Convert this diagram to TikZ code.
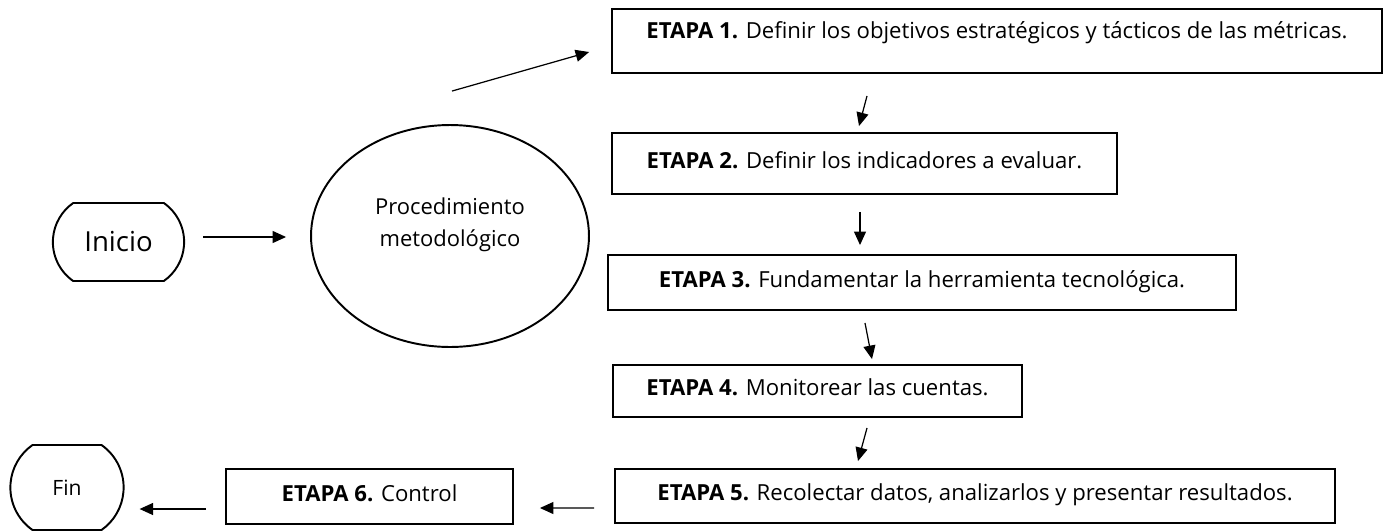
\documentclass[tikz,border=0pt]{standalone}
\usepackage{fontspec}
\setmainfont{Open Sans}
\usetikzlibrary{shapes.geometric,shapes.misc,arrows.meta}

\begin{document}
\begin{tikzpicture}[
    x=0.02cm, y=-0.02cm,
    etapa/.style={rectangle, draw, line width=1.1pt, align=center, font=\fontsize{12.6}{15}\selectfont, text height=0.8em, text depth=0.25em},
    terminal/.style={rounded rectangle, rounded rectangle arc length=110, draw, line width=1.1pt},
    proceso/.style={ellipse, draw, line width=1.1pt, align=center, minimum width=5.56cm, minimum height=4.44cm, font=\fontsize{12.5}{18.7}\selectfont},
    flecha/.style={line width=0.7pt, -{Triangle[length=0.27cm, width=0.24cm]}}
]
    \useasboundingbox (0,0) rectangle (1385,531);

    \node[terminal, minimum width=2.86cm, minimum height=1.56cm, font=\fontsize{15.7}{18}\selectfont] (ini) at (118.5,242) {Inicio};
    \node[proceso, text depth=15.8pt] (proc) at (450,236) {Procedimiento\\metodológico};
    \node[etapa, minimum width=15.4cm, minimum height=1.28cm, text depth=11pt] (e1) at (997,41) {\textbf{ETAPA 1.} Definir los objetivos estratégicos y tácticos de las métricas.};
    \node[etapa, minimum width=10.1cm, minimum height=1.22cm] (e2) at (864.5,163.5) {\textbf{ETAPA 2.} Definir los indicadores a evaluar.};
    \node[etapa, minimum width=12.56cm, minimum height=1.1cm] (e3) at (922,282.5) {\textbf{ETAPA 3.} Fundamentar la herramienta tecnológica.};
    \node[etapa, minimum width=8.18cm, minimum height=1.04cm] (e4) at (817.5,391) {\textbf{ETAPA 4.} Monitorear las cuentas.};
    \node[etapa, minimum width=14.4cm, minimum height=1.08cm] (e5) at (975,496) {\textbf{ETAPA 5.} Recolectar datos, analizarlos y presentar resultados.};
    \node[etapa, minimum width=5.74cm, minimum height=1.1cm] (e6) at (369.5,496.5) {\textbf{ETAPA 6.} Control};
    \node[terminal, minimum width=2.5cm, minimum height=1.7cm, font=\fontsize{12}{14}\selectfont] (fin) at (67,487.5) {Fin};

    \draw[flecha] ([shift={(18,-5)}]ini.east) -- ([shift={(-24,1)}]proc.west);
    \draw[flecha] ([shift={(2,-33)}]proc.north) -- ([shift={(-22,11)}]e1.west);
    \draw[flecha] ([shift={(-130,22)}]e1.south) -- ([shift={(-5.5,-6)}]e2.north);
    \draw[flecha] ([shift={(-4.5,17)}]e2.south) -- ([shift={(-62,-9)}]e3.north);
    \draw[flecha] ([shift={(-57,12)}]e3.south) -- ([shift={(54.5,-5)}]e4.north);
    \draw[flecha] ([shift={(49.5,10)}]e4.south) -- ([shift={(-117,-7)}]e5.north);
    \draw[flecha] ([shift={(-20,12)}]e5.west) -- ([shift={(26,11.5)}]e6.east);
    \draw[flecha] ([shift={(-19,12.5)}]e6.west) -- ([shift={(15,21.5)}]fin.east);

\end{tikzpicture}
\end{document}
